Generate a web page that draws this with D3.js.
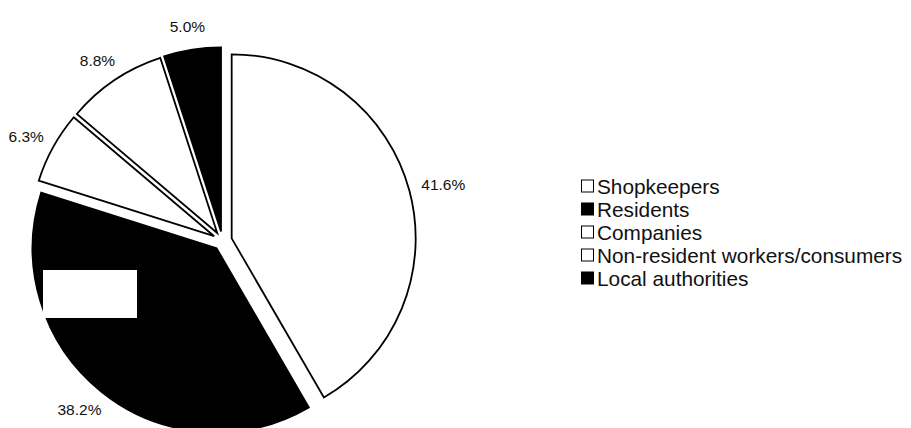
<!DOCTYPE html>
<html>
<head>
<meta charset="utf-8">
<script src="https://cdn.jsdelivr.net/npm/d3@7"></script>
<style>
  html, body { margin: 0; padding: 0; background: #fff; }
  svg { display: block; font-family: "Liberation Sans", Arial, Helvetica, sans-serif; }
</style>
</head>
<body>
<svg id="chart" width="911" height="428"></svg>
<script>
// Share of respondents by group (percent)
const categories = ["Shopkeepers", "Residents", "Companies", "Non-resident workers/consumers", "Local authorities"];
const shares = [41.6, 38.2, 6.3, 8.8, 5.0];
const fills = ["#ffffff", "#000000", "#ffffff", "#ffffff", "#000000"];

const cx = 222.5, cy = 240.8;     // pie centre
const radius = 184;
const explode = 9.5;              // each slice is pushed out along its bisector
const labelPad = 13;

const svg = d3.select("#chart");

const data = categories.map((c, i) => ({ name: c, value: shares[i], fill: fills[i] }));

const pie = d3.pie().sort(null).value(d => d.value);
const arc = d3.arc().innerRadius(0).outerRadius(radius);
const arcs = pie(data);

const pieG = svg.append("g").attr("transform", `translate(${cx},${cy})`);
const fmt = d3.format(".1f");

arcs.forEach(a => {
  const mid = (a.startAngle + a.endAngle) / 2;
  const ox = Math.sin(mid) * explode, oy = -Math.cos(mid) * explode;
  pieG.append("path")
    .attr("d", arc(a))
    .attr("transform", `translate(${ox},${oy})`)
    .attr("fill", a.data.fill)
    .attr("stroke", "#000")
    .attr("stroke-width", 1.8)
    .attr("stroke-linejoin", "miter");
});

// Blank callout box sitting inside the Residents slice
svg.append("rect")
  .attr("x", 43).attr("y", 270)
  .attr("width", 94).attr("height", 48)
  .attr("fill", "#fff");

// Percentage labels outside each slice
arcs.forEach(a => {
  const mid = (a.startAngle + a.endAngle) / 2;
  const dx = Math.sin(mid), dy = -Math.cos(mid);
  const r = radius + explode + labelPad;
  const t = svg.append("text")
    .attr("font-size", 15.5)
    .attr("fill", "#111")
    .attr("text-anchor", "middle")
    .attr("dominant-baseline", "central")
    .text(fmt(a.data.value) + "%");
  const bb = t.node().getBBox();
  const x = cx + dx * r + dx * bb.width / 2;
  const y = cy + dy * r + dy * bb.height / 2 * 1.2;
  t.attr("x", x).attr("y", y);
});

// Legend
const legend = svg.append("g").attr("transform", "translate(581,186)");
const rowH = 23, box = 12;
data.forEach((d, i) => {
  const g = legend.append("g").attr("transform", `translate(0,${i * rowH})`);
  g.append("rect")
    .attr("x", 0.5).attr("y", -box / 2)
    .attr("width", box).attr("height", box)
    .attr("fill", d.fill)
    .attr("stroke", "#000")
    .attr("stroke-width", 1);
  g.append("text")
    .attr("x", 16)
    .attr("y", 0)
    .attr("dominant-baseline", "central")
    .attr("font-size", 20.8)
    .attr("fill", "#111")
    .text(d.name);
});
</script>
</body>
</html>
